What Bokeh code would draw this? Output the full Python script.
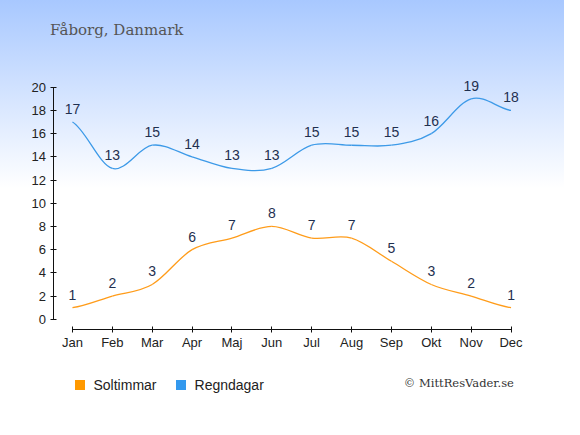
from bokeh.plotting import figure
from bokeh.models import (Legend, LegendItem, FixedTicker, Range1d,
                          ColumnDataSource, Label)
from bokeh.embed import file_html
from bokeh.resources import INLINE
from bokeh.core.properties import value

months = ["Jan", "Feb", "Mar", "Apr", "Maj", "Jun",
          "Jul", "Aug", "Sep", "Okt", "Nov", "Dec"]
sun_hours = [1, 2, 3, 6, 7, 8, 7, 7, 5, 3, 2, 1]
rain_days = [17, 13, 15, 14, 13, 13, 15, 15, 15, 16, 19, 18]
y_ticks = [0, 2, 4, 6, 8, 10, 12, 14, 16, 18, 20]

SUN_COLOR = "#ff9c1a"
RAIN_COLOR = "#3d9ae8"
SUN_SWATCH = "#ff9900"
RAIN_SWATCH = "#3399ee"
LABEL_COLOR = "#1f3050"


def spline_source(ys):
    """Cardinal (Catmull-Rom) spline segments through the data points."""
    n = len(ys)
    d = dict(x0=[], y0=[], x1=[], y1=[], cx0=[], cy0=[], cx1=[], cy1=[])
    for i in range(n - 1):
        prev = ys[i - 1] if i > 0 else ys[i]
        nxt = ys[i + 2] if i + 2 < n else ys[i + 1]
        m0 = (ys[i + 1] - prev) / 2.0
        m1 = (nxt - ys[i]) / 2.0
        d["x0"].append(i)
        d["y0"].append(ys[i])
        d["x1"].append(i + 1)
        d["y1"].append(ys[i + 1])
        d["cx0"].append(i + 1 / 3)
        d["cy0"].append(ys[i] + m0 / 3)
        d["cx1"].append(i + 2 / 3)
        d["cy1"].append(ys[i + 1] - m1 / 3)
    return ColumnDataSource(d)


# The frame covers almost the whole canvas; the axes are drawn inside it
# (fixed_location) so that title, legend and credit can sit in the frame.
p = figure(width=564, height=419,
           x_range=Range1d(-1.1527, 12.341), y_range=Range1d(-6.566, 27.471),
           output_backend="svg", toolbar_location=None,
           min_border_left=26, min_border_right=0,
           min_border_top=0, min_border_bottom=24)
p.background_fill_color = None
p.border_fill_color = None
p.outline_line_color = None
p.grid.visible = False
p.styles = {"background": "linear-gradient(to bottom, #a8c8ff 0%, #ffffff 45%)"}

# axes
p.xaxis.ticker = FixedTicker(ticks=list(range(len(months))))
p.xaxis.major_label_overrides = {i: m for i, m in enumerate(months)}
p.xaxis.bounds = (0, len(months) - 1)
p.xaxis.fixed_location = -0.836
p.xaxis.major_label_standoff = 3
p.yaxis.ticker = FixedTicker(ticks=y_ticks)
p.yaxis.bounds = (y_ticks[0], y_ticks[-1])
p.yaxis.fixed_location = -0.463
p.yaxis.major_label_standoff = 5
for ax in (p.xaxis, p.yaxis):
    ax.minor_tick_line_color = None
    ax.major_tick_in = 3
    ax.major_tick_out = 3
    ax.axis_line_color = "#111111"
    ax.major_tick_line_color = "#111111"
    ax.major_label_text_font = "Liberation Sans"
    ax.major_label_text_font_size = "13px"
    ax.major_label_text_color = "#222222"

# lines
p.bezier(x0="x0", y0="y0", x1="x1", y1="y1", cx0="cx0", cy0="cy0",
         cx1="cx1", cy1="cy1", source=spline_source(rain_days),
         line_color=RAIN_COLOR, line_width=1.3)
p.bezier(x0="x0", y0="y0", x1="x1", y1="y1", cx0="cx0", cy0="cy0",
         cx1="cx1", cy1="cy1", source=spline_source(sun_hours),
         line_color=SUN_COLOR, line_width=1.3)

# value labels
for ys in (rain_days, sun_hours):
    src = ColumnDataSource(dict(x=list(range(len(ys))), y=ys,
                                t=[str(v) for v in ys]))
    p.text(x="x", y="y", text="t", source=src, y_offset=-13,
           text_align="center", text_baseline="middle",
           text_font=value("Liberation Sans"), text_font_size="14px",
           text_color=LABEL_COLOR)

# legend swatches: zero-size square markers on the series (invisible in
# the plot); the legend draws its own square for each
idx = list(range(len(months)))
r_sun = p.scatter(x=idx, y=sun_hours, marker="square", size=0,
                  fill_color=SUN_SWATCH, line_color=None)
r_rain = p.scatter(x=idx, y=rain_days, marker="square", size=0,
                   fill_color=RAIN_SWATCH, line_color=None)
legend = Legend(items=[LegendItem(label="Soltimmar", renderers=[r_sun]),
                       LegendItem(label="Regndagar", renderers=[r_rain])],
                location=(40.5, -2), margin=0, orientation="horizontal",
                padding=0, spacing=11,
                glyph_width=25, glyph_height=25, label_standoff=2,
                border_line_color=None, background_fill_alpha=0,
                label_text_font="Liberation Sans", label_text_font_size="14px",
                label_text_color="#222222")
p.add_layout(legend, "center")

# title and credit
p.add_layout(Label(x=23.6, y=365.1, x_units="screen", y_units="screen",
                   text="Fåborg, Danmark", text_font="DejaVu Serif",
                   text_font_size="15px", text_color="#555555",
                   text_baseline="middle"))
p.add_layout(Label(x=487.4, y=12.6, x_units="screen", y_units="screen",
                   text="© MittResVader.se", text_font="DejaVu Serif",
                   text_font_size="11.5px", text_color="#333333",
                   text_align="right", text_baseline="middle"))

open("out.html", "w").write(file_html(p, INLINE))
